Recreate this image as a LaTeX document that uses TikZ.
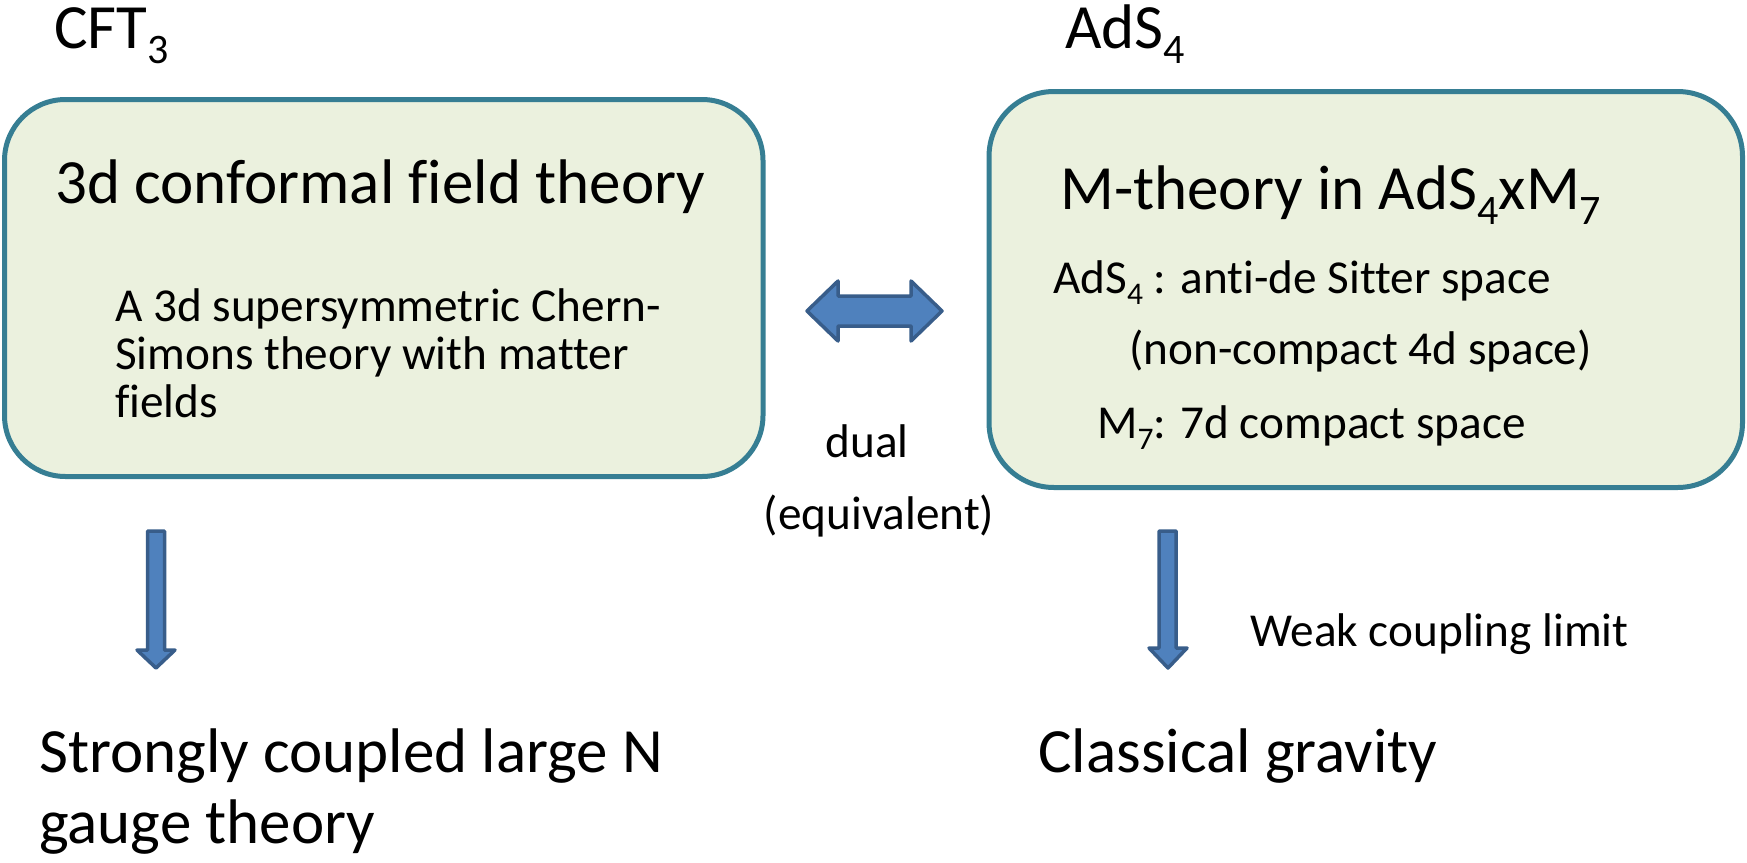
\documentclass[tikz,border=0pt]{standalone}
\usepackage{fontspec}
\setmainfont[Ligatures=NoCommon]{Carlito}
\definecolor{boxfill}{HTML}{EBF1DE}
\definecolor{boxline}{HTML}{367E93}
\definecolor{arrfill}{HTML}{4F81BD}
\definecolor{arrline}{HTML}{385D8A}
\newcommand\bsub[1]{\raisebox{-15pt}{\fontsize{42}{42}\selectfont #1}}
\newcommand\ssub[1]{\raisebox{-11pt}{\fontsize{31.5}{31.5}\selectfont #1}}
\tikzset{
  panel/.style={draw=boxline, fill=boxfill, line width=5pt, inner sep=0pt},
  blockarrow/.style={draw=arrline, fill=arrfill, line width=3.5pt, line join=round},
  bigtext/.style={font=\fontsize{63}{72}\selectfont, inner sep=0pt, anchor=base west},
  smalltext/.style={font=\fontsize{47.25}{52}\selectfont, inner sep=0pt, anchor=base west},
}
\begin{document}
\begin{tikzpicture}[x=1pt,y=-1pt]
\useasboundingbox (0,0) rectangle (1747,862);
% panels
\node[panel, rounded corners=61pt, minimum width=758.5pt, minimum height=377pt] (lbox) at (383.75,288) {};
\node[panel, rounded corners=65pt, minimum width=753.5pt, minimum height=396pt] (rbox) at (1365.75,289.5) {};
% headings
\node[bigtext] (cft) at (54,48) {CFT\bsub{3}};
\node[bigtext] (ads) at (1065,48) {AdS\bsub{4}};
% left box text
\node[bigtext] (ltitle) at (55,203) {3d conformal f\kern0pt ield theory};
\node[smalltext] (la) at (115,321) {A 3d supersymmetric Chern-};
\node[smalltext] (lb) at (115,369) {Simons theory with matter};
\node[smalltext] (lc) at (115,417) {f\kern0pt ields};
% right box text
\node[bigtext] (rtitle) at (1060,209) {M-theory in AdS\bsub{4}xM\bsub{7}};
\node[smalltext] (ra) at (1053,293) {AdS\ssub{4} : anti-de Sitter space};
\node[smalltext] (rb) at (1129,364) {(non-compact 4d space)};
\node[smalltext] (rc) at (1097,438) {M\ssub{7}: 7d compact space};
% middle
\node[smalltext, anchor=base] (dual) at (867,457) {dual};
\node[smalltext, anchor=base] (equiv) at (879,529) {(equivalent)};
% double arrow
\draw[blockarrow] (807,311) -- (838,281) -- (838,296) -- (911,296) -- (911,281)
  -- (942,311) -- (911,341) -- (911,326) -- (838,326) -- (838,341) -- cycle;
% down arrows
\draw[blockarrow] (147.5,531) -- (164.5,531) -- (164.5,650) -- (175,650) -- (156,668)
  -- (137,650) -- (147.5,650) -- cycle;
\draw[blockarrow] (1159,531) -- (1176,531) -- (1176,648) -- (1187,648) -- (1168,668)
  -- (1149,648) -- (1159,648) -- cycle;
\node[smalltext] (weak) at (1250,646) {Weak coupling limit};
% bottom
\node[bigtext] (s1) at (39,772) {Strongly coupled large N};
\node[bigtext] (s2) at (39,843) {gauge theory};
\node[bigtext] (cg) at (1038,772) {Classical gravity};
\end{tikzpicture}
\end{document}
